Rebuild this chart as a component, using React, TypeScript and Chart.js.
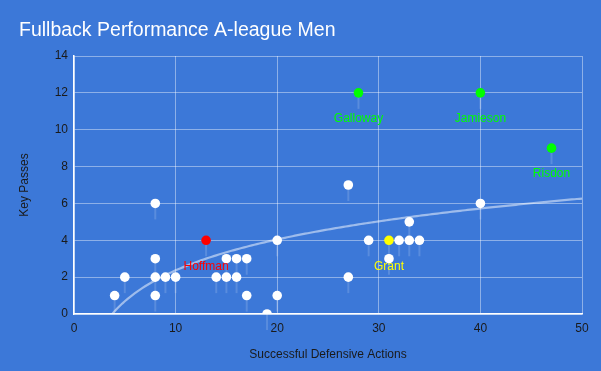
import { useEffect, useRef } from "react";
import { Chart, registerables } from "chart.js";

Chart.register(...registerables);

// ---- data ----
const otherX = [4, 5, 8, 8, 8, 8, 9, 10, 14, 15, 15, 16, 16, 17, 17, 19, 20, 20, 27, 27, 29, 31, 32, 33, 33, 34, 40];
const otherY = [1, 2, 6, 3, 2, 1, 2, 2, 2, 3, 2, 3, 2, 3, 1, 0, 4, 1, 7, 2, 4, 3, 4, 5, 4, 4, 6];

const namedPlayers = ["Hoffman", "Grant", "Galloway", "Jamieson", "Risdon"];
const namedX = [13, 31, 28, 40, 47];
const namedY = [4, 4, 12, 12, 9];
const namedColors = ["#ff0000", "#ffff00", "#00ff00", "#00ff00", "#00ff00"];

const xTicks = [0, 10, 20, 30, 40, 50];
const yTicks = [0, 2, 4, 6, 8, 10, 12, 14];

const titleText = "Fullback Performance A-league Men";
const xTitle = "Successful Defensive Actions";
const yTitle = "Key Passes";

// ---- logarithmic trendline fitted to all points (least squares on ln x) ----
function logFit(xs: number[], ys: number[]) {
  const n = xs.length;
  const ls = xs.map((v) => Math.log(v));
  const mL = ls.reduce((a, b) => a + b, 0) / n;
  const mY = ys.reduce((a, b) => a + b, 0) / n;
  let sxy = 0;
  let sxx = 0;
  for (let i = 0; i < n; i++) {
    sxy += (ls[i] - mL) * (ys[i] - mY);
    sxx += (ls[i] - mL) * (ls[i] - mL);
  }
  const a = sxy / sxx;
  const b = mY - a * mL;
  return { a, b };
}

const BG = "#3c78d8";
const FONT = "'Liberation Sans', Arial, sans-serif";

export default function App() {
  const ref = useRef<HTMLCanvasElement | null>(null);

  useEffect(() => {
    const canvas = ref.current;
    if (!canvas) return;

    const allX = [...otherX, ...namedX];
    const allY = [...otherY, ...namedY];
    const { a, b } = logFit(allX, allY);
    const trend: { x: number; y: number }[] = [];
    for (let x = 1; x <= xTicks[xTicks.length - 1]; x += 0.25) {
      trend.push({ x, y: a * Math.log(x) + b });
    }

    const bgPlugin = {
      id: "bg",
      beforeDraw(chart: any) {
        const { ctx, width, height } = chart;
        ctx.save();
        ctx.fillStyle = BG;
        ctx.fillRect(0, 0, width, height);
        ctx.restore();
      },
    };

    const dropPlugin = {
      id: "drops",
      beforeDatasetsDraw(chart: any) {
        const { ctx } = chart;
        ctx.save();
        ctx.strokeStyle = "rgba(255,255,255,0.15)";
        ctx.lineWidth = 2;
        [0, 1].forEach((di) => {
          chart.getDatasetMeta(di).data.forEach((el: any) => {
            ctx.beginPath();
            ctx.moveTo(el.x, el.y);
            ctx.lineTo(el.x, el.y + 16);
            ctx.stroke();
          });
        });
        ctx.restore();
      },
    };

    const labelPlugin = {
      id: "names",
      afterDatasetsDraw(chart: any) {
        const { ctx } = chart;
        ctx.save();
        ctx.font = `12px ${FONT}`;
        ctx.textAlign = "center";
        ctx.textBaseline = "middle";
        chart.getDatasetMeta(1).data.forEach((el: any, i: number) => {
          ctx.fillStyle = namedColors[i];
          ctx.fillText(namedPlayers[i], el.x, el.y + 26);
        });
        ctx.restore();
      },
    };

    const chart = new Chart(canvas, {
      type: "scatter",
      data: {
        datasets: [
          {
            label: "Players",
            data: otherX.map((x, i) => ({ x, y: otherY[i] })),
            backgroundColor: "#ffffff",
            borderWidth: 0,
            pointRadius: 4.8,
            pointHoverRadius: 4.8,
            order: 1,
          },
          {
            label: "Highlighted",
            data: namedX.map((x, i) => ({ x, y: namedY[i] })),
            backgroundColor: namedColors,
            borderWidth: 0,
            pointRadius: 4.8,
            pointHoverRadius: 4.8,
            order: 1,
          },
          {
            type: "line",
            label: "Trend",
            data: trend,
            showLine: true,
            borderColor: "rgba(255,255,255,0.5)",
            borderWidth: 2.2,
            pointRadius: 0,
            tension: 0,
            fill: false,
            order: 2,
          } as any,
        ],
      },
      options: {
        responsive: false,
        animation: false,
        devicePixelRatio: 1,
        layout: { padding: { left: 19, right: 19, top: 0, bottom: 0 } },
        plugins: {
          legend: { display: false },
          tooltip: { enabled: false },
          title: {
            display: true,
            text: titleText,
            align: "start",
            color: "#ffffff",
            font: { family: FONT, size: 19.5, weight: "normal", lineHeight: 1.2 },
            padding: { top: 18.5, bottom: 14.1 },
          },
        },
        scales: {
          x: {
            type: "linear",
            min: xTicks[0],
            max: xTicks[xTicks.length - 1],
            afterBuildTicks: (s: any) => {
              s.ticks = xTicks.map((v) => ({ value: v }));
            },
            afterFit: (s: any) => {
              s.height = 57;
            },
            ticks: {
              color: "#1a1a1a",
              font: { family: FONT, size: 12 },
              padding: 7,
            },
            grid: {
              color: "rgba(255,255,255,0.42)",
              lineWidth: 1,
              drawTicks: false,
            },
            border: { display: true, color: "#ffffff", width: 1.5 },
            title: {
              display: true,
              text: xTitle,
              color: "#1a1a1a",
              font: { family: FONT, size: 12 },
              padding: { top: 0, bottom: 9.5 },
            },
          },
          y: {
            type: "linear",
            min: yTicks[0],
            max: yTicks[yTicks.length - 1],
            afterBuildTicks: (s: any) => {
              s.ticks = yTicks.map((v) => ({ value: v }));
            },
            afterFit: (s: any) => {
              s.width = 55;
            },
            ticks: {
              color: "#1a1a1a",
              font: { family: FONT, size: 12 },
              padding: 6,
            },
            grid: {
              color: "rgba(255,255,255,0.42)",
              lineWidth: 1,
              drawTicks: false,
            },
            border: { display: true, color: "#ffffff", width: 1.5 },
            title: {
              display: true,
              text: yTitle,
              color: "#1a1a1a",
              font: { family: FONT, size: 12 },
              padding: { top: -2, bottom: 0 },
            },
          },
        },
      },
      plugins: [bgPlugin, dropPlugin, labelPlugin],
    });

    return () => chart.destroy();
  }, []);

  return (
    <div style={{ position: "fixed", left: 0, top: 0, width: 601, height: 371, background: BG }}>
      <canvas ref={ref} width={601} height={371} style={{ display: "block" }} />
    </div>
  );
}
